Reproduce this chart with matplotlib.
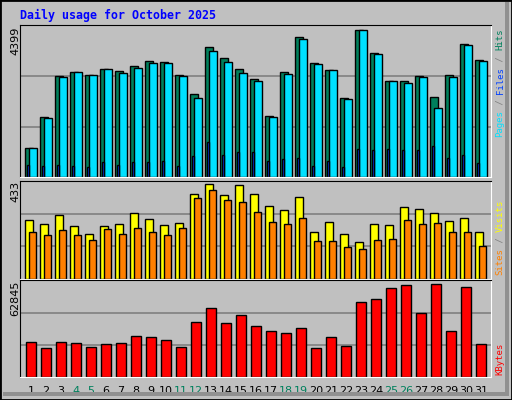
import matplotlib.pyplot as plt
from matplotlib.patches import Rectangle

days = list(range(1, 32))
weekend = [4, 5, 11, 12, 18, 19, 25, 26]

hits = [876, 1801, 3025, 3125, 3055, 3234, 3155, 3324, 3473, 3443, 3055, 2488, 3891, 3563, 3234,
        2936, 1831, 3145, 4190, 3414, 3204, 2369, 4399, 3712, 2876, 2856, 3025, 2398, 3055, 3981, 3503]
pages = [876, 1771, 2996, 3125, 3055, 3234, 3115, 3264, 3414, 3414, 3025, 2369, 3772, 3443, 3115,
         2876, 1801, 3085, 4130, 3384, 3204, 2339, 4399, 3682, 2876, 2816, 2996, 2070, 2996, 3951, 3473]
files = [368, 338, 368, 338, 308, 458, 368, 458, 458, 488, 338, 637, 1055, 667, 756,
         756, 488, 547, 577, 338, 488, 308, 846, 816, 846, 816, 816, 935, 577, 667, 428]
visits = [268, 249, 292, 240, 207, 240, 249, 301, 273, 245, 254, 391, 433, 386, 428,
          391, 334, 315, 376, 216, 259, 207, 169, 249, 245, 329, 320, 301, 264, 278, 212]
sites = [216, 202, 221, 202, 179, 226, 207, 231, 216, 198, 231, 372, 409, 362, 353,
         306, 259, 249, 278, 174, 174, 146, 136, 179, 184, 268, 249, 254, 216, 216, 151]
kbytes = [23480, 19337, 23480, 22790, 20028, 22099, 22790, 27624, 26934, 24862, 20028, 37293, 46961, 36602, 42127,
          34530, 31077, 29696, 33149, 19337, 26934, 20718, 51105, 53177, 60083, 62154, 43508, 62845, 31077, 60774, 22099]

GRAY = '#C0C0C0'
MONO = ['DejaVu Sans Mono']

fig = plt.figure(figsize=(5.12, 4.0), dpi=100, facecolor=GRAY)

# 3D frame
fig.patches.append(Rectangle((0, 0), 1, 1, transform=fig.transFigure, fc='none', ec='black', lw=2))
fig.patches.append(Rectangle((505 / 512, 0.01), 4 / 512, 0.985, transform=fig.transFigure, fc='#909090', ec='none'))
fig.patches.append(Rectangle((0.005, 0.01), 0.985, 4 / 400, transform=fig.transFigure, fc='#909090', ec='none'))

fig.text(20 / 512, 1 - 15 / 400, 'Daily usage for October 2025', color='#0000FF',
         family=MONO, weight='bold', fontsize=8.4, va='center')


def panel(rect, ymax, maxlabel, labelpos):
    ax = fig.add_axes(rect)
    ax.set_facecolor(GRAY)
    ax.set_xlim(0.267, 31.67)
    ax.set_ylim(0, ymax)
    ax.set_xticks([])
    ax.set_yticks([])
    for s in ('top', 'left'):
        ax.spines[s].set_color('black')
    for s in ('bottom', 'right'):
        ax.spines[s].set_color('white')
    for f in (0.33, 0.66):
        ax.axhline(f * ymax, color='#808080', lw=1.2, zorder=0)
    fig.text(15 / 512, 1 - labelpos / 400, maxlabel, rotation=90, ha='center', va='top', fontsize=8)
    return ax


ax1 = panel([20 / 512, 1 - 177 / 400, 471 / 512, 152.5 / 400], 4551, '4399', 27)
ax2 = panel([20 / 512, 1 - 278.5 / 400, 471 / 512, 97.8 / 400], 450, '433', 181)
ax3 = panel([20 / 512, 1 - 377 / 400, 471 / 512, 96.7 / 400], 65557, '62845', 281)

kw = dict(align='edge', edgecolor='black', linewidth=1, zorder=2)
ax1.bar([d - 0.4 for d in days], hits, width=0.53, color='#00805C', **kw)
ax1.bar([d - 0.13 for d in days], pages, width=0.51, color='#00E0FF', **kw)
ax1.bar([d - 0.29 for d in days], files, width=0.17, color='#0040FF', **kw)
ax2.bar([d - 0.4 for d in days], visits, width=0.55, color='#FFFF00', **kw)
ax2.bar([d - 0.13 for d in days], sites, width=0.49, color='#FF8000', **kw)
ax3.bar([d - 0.33 for d in days], kbytes, width=0.69, color='#FF0000', **kw)

# day labels
for d in days:
    ax3.text(d, -0.09, str(d), transform=ax3.get_xaxis_transform(), ha='center', va='top',
             fontsize=8, color='#00805C' if d in weekend else 'black')


def side_label(x, ybottom, parts):
    # stack coloured pieces bottom-to-top, one monospace char = 5.42 px
    y = ybottom
    for txt, col in parts:
        fig.text(x / 512, 1 - y / 400, txt, rotation=90, color=col, family=MONO,
                 fontsize=6.5, ha='center', va='bottom')
        y -= len(txt) * 5.42


side_label(500, 137, [('Pages', '#00E0FF'), (' / ', '#808080'), ('Files', '#0040FF'),
                      (' / ', '#808080'), ('Hits', '#00805C')])
side_label(500, 275, [('Sites', '#FF8000'), (' / ', '#808080'), ('Visits', '#FFFF00')])
side_label(500, 375, [('KBytes', '#FF0000')])

fig.savefig('out.png', dpi=100, facecolor=GRAY)
